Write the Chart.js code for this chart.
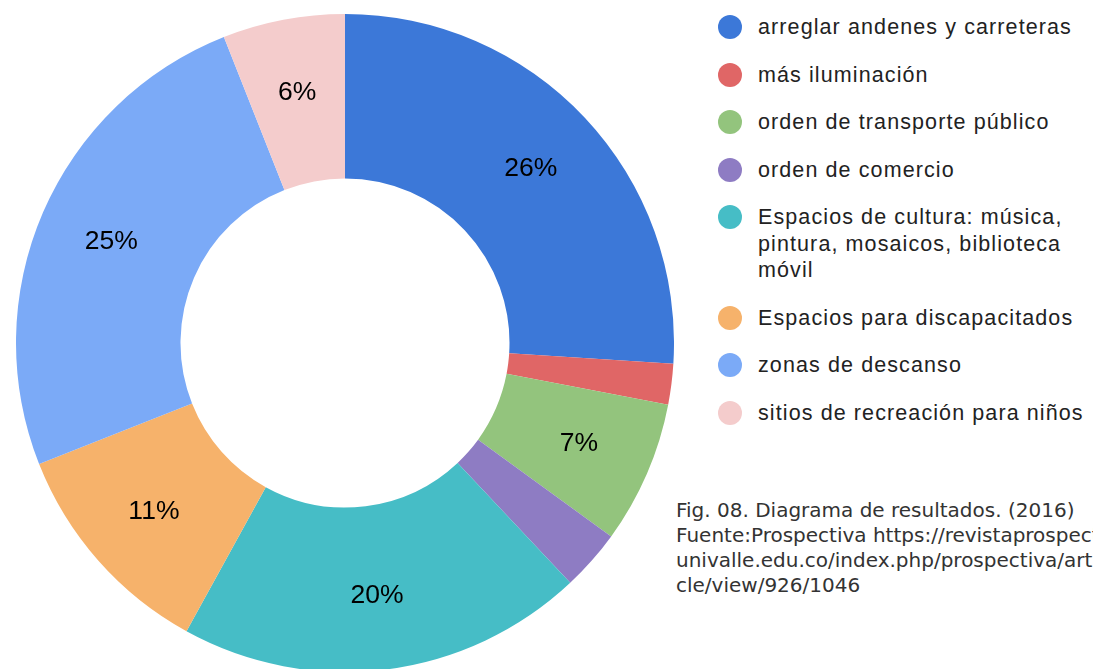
<!DOCTYPE html>
<html>
<head>
<meta charset="utf-8">
<script src="https://cdn.jsdelivr.net/npm/chart.js@4/dist/chart.umd.min.js"></script>
<style>
  html, body { margin: 0; padding: 0; background: #fff; width: 1093px; height: 669px; overflow: hidden; }
  #chart-box { position: absolute; left: 16px; top: 14px; width: 658px; height: 658px; }
  #legend { position: absolute; left: 718px; top: 14px; font-family: "Liberation Sans", Arial, sans-serif; font-size: 21.5px; color: #222; letter-spacing: 1.1px; }
  .legend-item { display: flex; align-items: flex-start; margin-bottom: 21px; line-height: 26.5px; white-space: pre-line; }
  .legend-dot { width: 24px; height: 24px; border-radius: 50%; margin-top: 1px; margin-right: 16px; flex: none; }
  #caption { position: absolute; left: 676px; top: 498px; font-family: "DejaVu Sans", sans-serif; font-size: 20px; line-height: 25px; color: #333; white-space: pre; }
</style>
</head>
<body>
<div id="chart-box"><canvas id="donut"></canvas></div>
<div id="legend"></div>
<div id="caption"></div>
<script>
const categories = [
  "arreglar andenes y carreteras",
  "más iluminación",
  "orden de transporte público",
  "orden de comercio",
  "Espacios de cultura: música,\npintura, mosaicos, biblioteca\nmóvil",
  "Espacios para discapacitados",
  "zonas de descanso",
  "sitios de recreación para niños",
];
const shares = [26, 2, 7, 3, 20, 11, 25, 6];
const sliceColors = ["#3c78d8", "#e06666", "#93c47d", "#8e7cc3", "#46bdc6", "#f6b26b", "#7baaf7", "#f4cccc"];
const captionLines = [
  "Fig. 08. Diagrama de resultados. (2016)",
  "Fuente:Prospectiva https://revistaprospectiva.",
  "univalle.edu.co/index.php/prospectiva/arti",
  "cle/view/926/1046",
];

// percentage text on each slice, skipped for the thin ones like the original
const sliceLabels = {
  id: "sliceLabels",
  afterDatasetsDraw(chart) {
    const { ctx } = chart;
    const meta = chart.getDatasetMeta(0);
    ctx.save();
    ctx.font = '26.5px "Liberation Sans", Arial, sans-serif';
    ctx.fillStyle = "#000";
    ctx.textAlign = "center";
    ctx.textBaseline = "middle";
    meta.data.forEach((arc, i) => {
      const v = shares[i];
      if (v < 5) return;
      const p = arc.getProps(["x", "y", "startAngle", "endAngle", "innerRadius", "outerRadius"], true);
      const mid = (p.startAngle + p.endAngle) / 2;
      const r = (p.innerRadius + p.outerRadius) / 2 + 8;
      ctx.fillText(v + "%", p.x + Math.cos(mid) * r, p.y + Math.sin(mid) * r);
    });
    ctx.restore();
  },
};

new Chart(document.getElementById("donut"), {
  type: "doughnut",
  data: {
    labels: categories,
    datasets: [{
      data: shares,
      backgroundColor: sliceColors,
      borderWidth: 0,
    }],
  },
  options: {
    animation: false,
    responsive: true,
    maintainAspectRatio: false,
    cutout: "50%",
    layout: { padding: 0 },
    plugins: {
      legend: { display: false },
      tooltip: { enabled: false },
    },
  },
  plugins: [sliceLabels],
});

document.getElementById("legend").innerHTML = categories.map((name, i) => `
  <div class="legend-item"><span class="legend-dot" style="background:${sliceColors[i]}"></span><span>${name}</span></div>`).join("");
document.getElementById("caption").textContent = captionLines.join("\n");
</script>
</body>
</html>
